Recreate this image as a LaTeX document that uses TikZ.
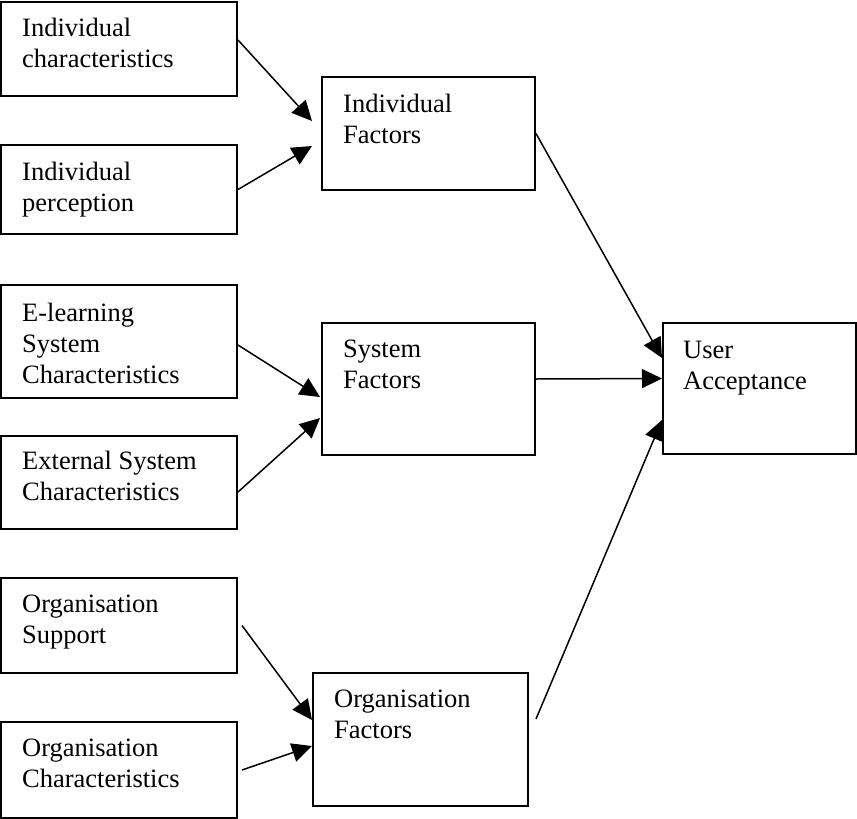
\documentclass[tikz,border=0pt]{standalone}
\usepackage{fontspec}
\setmainfont{Liberation Serif}
\usetikzlibrary{arrows.meta}

\begin{document}
\begin{tikzpicture}
        [x=1pt,y=-1pt,
         box/.style={draw,line width=2pt,inner sep=0pt},
         txt/.style={anchor=base west,align=left,inner sep=0pt,font=\fontsize{26.5}{31}\selectfont},
         arr/.style={line width=1.5pt,-{Triangle[length=20pt,width=19pt]}}]
        \useasboundingbox (0,0) rectangle (857,819);

        % left column
        \node[box,minimum width=236pt,minimum height=94pt]  (ic)  at (119,49)    {};
        \node[box,minimum width=236pt,minimum height=89pt]  (ip)  at (119,189.5) {};
        \node[box,minimum width=236pt,minimum height=113pt] (els) at (119,341.5) {};
        \node[box,minimum width=236pt,minimum height=93pt]  (esc) at (119,482.5) {};
        \node[box,minimum width=236pt,minimum height=95pt]  (os)  at (119,625.5) {};
        \node[box,minimum width=236pt,minimum height=96pt]  (oc)  at (119,770)   {};
        % (base = last line)
        \node[txt] (ic-t)  at (22,67)  {Individual\\characteristics};
        \node[txt] (ip-t)  at (22,211) {Individual\\perception};
        \node[txt] (els-t) at (22,383) {E-learning\\System\\Characteristics};
        \node[txt] (esc-t) at (22,500) {External System\\Characteristics};
        \node[txt] (os-t)  at (22,643) {Organisation\\Support};
        \node[txt] (oc-t)  at (22,787) {Organisation\\Characteristics};

        % factors
        \node[box,minimum width=213pt,minimum height=113pt] (if) at (428.5,133.5) {};
        \node[box,minimum width=213pt,minimum height=132pt] (sf) at (428.5,389)   {};
        \node[box,minimum width=215pt,minimum height=133pt] (of) at (420.5,739.5) {};
        \node[txt] (if-t) at (343,143) {Individual\\Factors};
        \node[txt] (sf-t) at (343,388) {System\\Factors};
        \node[txt] (of-t) at (334,738) {Organisation\\Factors};

        % acceptance
        \node[box,minimum width=193pt,minimum height=131pt] (ua) at (759.5,388.5) {};
        \node[txt] (ua-t) at (683,389) {User\\Acceptance};

        % into the factors
        \draw[arr] ([yshift=9pt]ic.east) -- ([xshift=-9pt,yshift=12.5pt]if.west);
        \draw[arr] (ip.east) -- ([xshift=-9pt,yshift=-12.5pt]if.west);
        \draw[arr] ([yshift=-3.5pt]els.east) -- ([xshift=-1pt,yshift=-8pt]sf.west);
        \draw[arr] ([yshift=-9.5pt]esc.east) -- ([xshift=-1pt,yshift=-29pt]sf.west);
        \draw[arr] ([xshift=4pt]os.east) -- ([yshift=19.5pt]of.west);
        \draw[arr] ([xshift=4pt]oc.east) -- ([yshift=-6.5pt]of.west);
        % into user acceptance
        \draw[arr] (if.east) -- ([yshift=30.5pt]ua.west);
        \draw[arr] ([yshift=10pt]sf.east) -- ([yshift=10pt]ua.west);
        \draw[arr] ([xshift=7pt,yshift=20.5pt]of.east) -- ([yshift=-31.5pt]ua.west);
    \end{tikzpicture}
\end{document}
